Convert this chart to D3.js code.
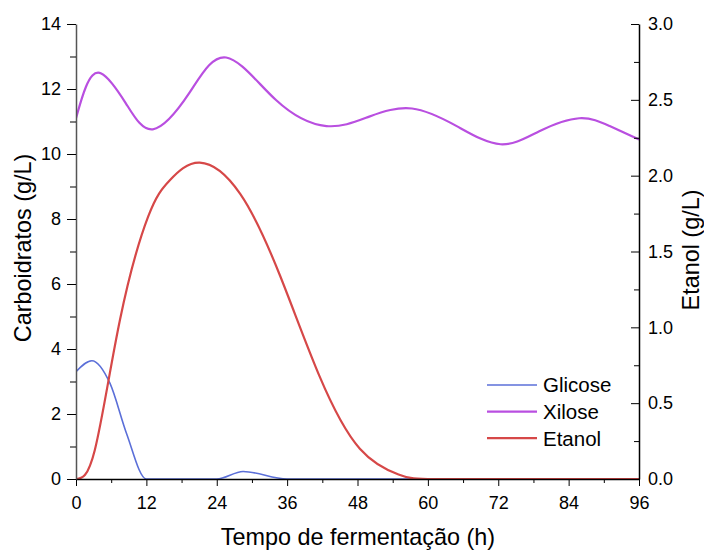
<!DOCTYPE html>
<html>
<head>
<meta charset="utf-8">
<script src="https://cdn.jsdelivr.net/npm/d3@7"></script>
<style>
  body { margin: 0; background: #fff; }
  svg { font-family: "Liberation Sans", Arial, sans-serif; }
  .axis text { font-size: 18px; fill: #000; }
</style>
</head>
<body>
<div id="chart"></div>
<script>
// time (h) and values
const glicoseT = [0, 2.7, 5.8, 8.6, 12, 18, 24, 28.5, 36, 48, 60, 72, 84, 96];
const glicose  = [3.3, 3.64, 2.94, 1.41, 0, 0, 0, 0.23, 0, 0, 0, 0, 0, 0];

const xiloseT = [0, 1.7, 4.3, 8.5, 13.1, 19.3, 25.6, 34.1, 42.7, 50, 57.3, 65, 72.4, 79, 85.8, 91, 96];
const xilose  = [11.1, 12.07, 12.48, 11.56, 10.76, 11.87, 12.97, 11.66, 10.86, 11.15, 11.4, 10.85, 10.3, 10.7, 11.1, 10.86, 10.45];

const etanolT = [0, 3.2, 7.5, 12.3, 16, 21.1, 28, 34.8, 41.5, 48.4, 55, 60, 72, 84, 96];
const etanol  = [0, 0.19, 1.05, 1.73, 1.97, 2.086, 1.88, 1.34, 0.68, 0.2, 0.03, 0, 0, 0, 0];

const xTicks = d3.range(0, 97, 12);
const yLeftTicks = d3.range(0, 15, 2);
const yRightTicks = [0, 0.5, 1.0, 1.5, 2.0, 2.5, 3.0];

const width = 704, height = 550;
const plotL = 76, plotR = 639, plotT = 24, plotB = 479;

const svg = d3.select("#chart").append("svg")
    .attr("width", width)
    .attr("height", height);

const x = d3.scaleLinear().domain([0, 96]).range([plotL, plotR]);
const yL = d3.scaleLinear().domain([0, 14]).range([plotB, plotT]);
const yR = d3.scaleLinear().domain([0, 3]).range([plotB, plotT]);

svg.append("clipPath").attr("id", "plot")
    .append("rect")
    .attr("x", plotL).attr("y", plotT - 2)
    .attr("width", plotR - plotL).attr("height", plotB - plotT + 2.5);

function zip(ts, vs) { return ts.map((t, i) => [t, vs[i]]); }

function makeLine(y, curve) {
    return d3.line().x(d => x(d[0])).y(d => y(d[1])).curve(curve);
}

const series = [
    { name: "Glicose", color: "#5b6fd8", w: 1.6, data: zip(glicoseT, glicose), line: makeLine(yL, d3.curveMonotoneX) },
    { name: "Xilose", color: "#b94fe0", w: 2.2, data: zip(xiloseT, xilose), line: makeLine(yL, d3.curveNatural) },
    { name: "Etanol", color: "#d64848", w: 2.2, data: zip(etanolT, etanol), line: makeLine(yR, d3.curveNatural) }
];

const g = svg.append("g").attr("clip-path", "url(#plot)");
series.forEach(s => {
    g.append("path")
        .attr("d", s.line(s.data))
        .attr("fill", "none")
        .attr("stroke", s.color)
        .attr("stroke-width", s.w);
});

// bottom axis
svg.append("g").attr("class", "axis")
    .attr("transform", `translate(0,${plotB})`)
    .call(d3.axisBottom(x).tickValues(xTicks).tickSize(7).tickPadding(10).tickSizeOuter(0))
    .call(a => a.select(".domain").attr("stroke-width", 1.5));
svg.append("g").attr("class", "axis")
    .attr("transform", `translate(0,${plotB})`)
    .call(d3.axisBottom(x).tickValues(xTicks.slice(0, -1).map(t => t + 6)).tickSize(4).tickFormat("").tickSizeOuter(0))
    .call(a => a.select(".domain").remove());

// left axis
svg.append("g").attr("class", "axis")
    .attr("transform", `translate(${plotL},0)`)
    .call(d3.axisLeft(yL).tickValues(yLeftTicks).tickSize(9).tickPadding(6).tickSizeOuter(0))
    .call(a => a.select(".domain").attr("stroke", "#555").attr("stroke-width", 1.5));
svg.append("g").attr("class", "axis")
    .attr("transform", `translate(${plotL},0)`)
    .call(d3.axisLeft(yL).tickValues(yLeftTicks.slice(0, -1).map(v => v + 1)).tickSize(6).tickFormat(""))
    .call(a => a.select(".domain").remove());

// right axis, ticks pointing inward
svg.append("g").attr("class", "axis")
    .attr("transform", `translate(${plotR},0)`)
    .call(d3.axisRight(yR).tickValues(yRightTicks).tickSize(-8).tickPadding(9).tickSizeOuter(0)
        .tickFormat(d3.format(".1f")))
    .call(a => a.select(".domain").attr("stroke-width", 1.5));
svg.append("g").attr("class", "axis")
    .attr("transform", `translate(${plotR},0)`)
    .call(d3.axisRight(yR).tickValues(yRightTicks.slice(0, -1).map(v => v + 0.25)).tickSize(-5).tickFormat(""))
    .call(a => a.select(".domain").remove());

// axis titles
svg.append("text")
    .attr("x", 358).attr("y", 545)
    .attr("text-anchor", "middle")
    .attr("font-size", 23.4)
    .text("Tempo de fermentação (h)");

svg.append("text")
    .attr("transform", "translate(31,248) rotate(-90)")
    .attr("text-anchor", "middle")
    .attr("font-size", 23.4)
    .text("Carboidratos (g/L)");

svg.append("text")
    .attr("transform", "translate(699,250) rotate(-90)")
    .attr("text-anchor", "middle")
    .attr("font-size", 23.4)
    .text("Etanol (g/L)");

// legend
const legend = svg.append("g").attr("transform", "translate(487,385)");
series.forEach((s, i) => {
    const row = legend.append("g").attr("transform", `translate(0,${i * 26.6})`);
    row.append("line")
        .attr("x1", 0).attr("x2", 50)
        .attr("stroke", s.color).attr("stroke-width", s.w);
    row.append("text")
        .attr("x", 56).attr("y", 0).attr("dy", "0.36em")
        .attr("font-size", 20.5)
        .text(s.name);
});
</script>
</body>
</html>
